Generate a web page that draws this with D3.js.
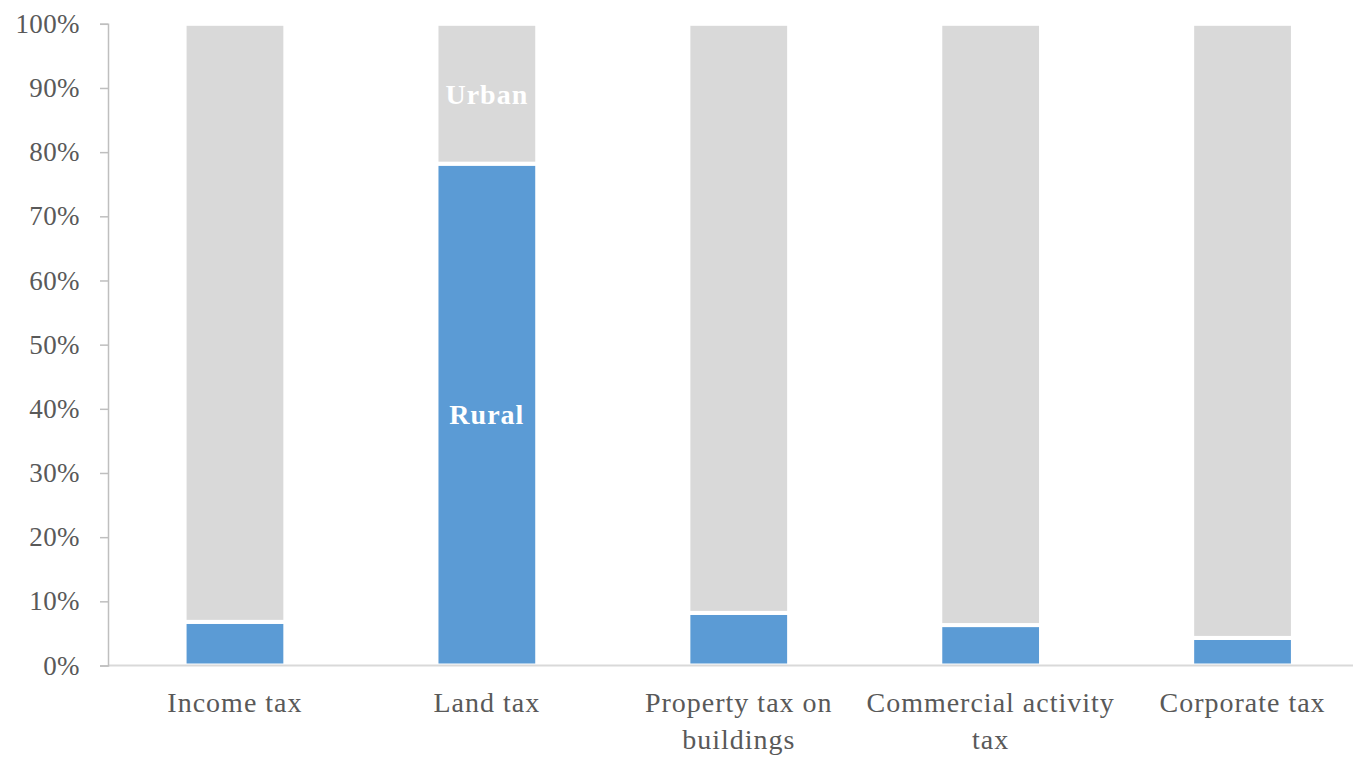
<!DOCTYPE html>
<html>
<head>
<meta charset="utf-8">
<script src="https://cdn.jsdelivr.net/npm/d3@7"></script>
<style>
  html, body { margin: 0; padding: 0; background: #fff; }
  svg { display: block; }
  text { font-family: "Liberation Serif", "DejaVu Serif", serif; }
</style>
</head>
<body>
<svg id="chart" width="1353" height="758"></svg>
<script>
// Share of each tax collected in rural vs urban areas
const categories = ["Income tax", "Land tax", "Property tax on buildings", "Commercial activity tax", "Corporate tax"];
const categoryLines = [["Income tax"], ["Land tax"], ["Property tax on", "buildings"], ["Commercial activity", "tax"], ["Corporate tax"]];
const rural = [6.8, 78.2, 8.2, 6.3, 4.3];
const urban = rural.map(v => 100 - v);
const yTicks = [0, 10, 20, 30, 40, 50, 60, 70, 80, 90, 100];

const svg = d3.select("#chart");
const plotLeft = 108, plotRight = 1369.5, plotTop = 23.8, plotBottom = 665.5;

const x = d3.scaleBand().domain(categories).range([plotLeft, plotRight]).paddingInner(0.6).paddingOuter(0.304);
const y = d3.scaleLinear().domain([0, 100]).range([plotBottom, plotTop]);

const rows = categories.map((c, i) => ({ cat: c, rural: rural[i], urban: urban[i] }));
const stack = d3.stack().keys(["rural", "urban"])(rows);
const colors = { rural: "#5b9bd5", urban: "#d9d9d9" };

// stacked bars with white separators
svg.append("g").selectAll("g").data(stack).join("g")
  .attr("fill", d => colors[d.key])
  .selectAll("rect").data(d => d).join("rect")
  .attr("x", d => x(d.data.cat))
  .attr("width", x.bandwidth())
  .attr("y", d => y(d[1]))
  .attr("height", d => y(d[0]) - y(d[1]))
  .attr("stroke", "#fff")
  .attr("stroke-width", 4);

// x axis baseline
svg.append("line")
  .attr("x1", plotLeft).attr("x2", 1353)
  .attr("y1", plotBottom).attr("y2", plotBottom)
  .attr("stroke", "#d9d9d9").attr("stroke-width", 2);

// y axis
const yAxis = svg.append("g")
  .attr("transform", `translate(${plotLeft},0)`)
  .call(d3.axisLeft(y).tickValues(yTicks).tickFormat(d => d + "%").tickSize(8).tickPadding(20));
yAxis.select(".domain").attr("stroke", "#bfbfbf").attr("stroke-width", 1.5);
yAxis.selectAll(".tick line").attr("stroke", "#bfbfbf").attr("stroke-width", 1.5);
yAxis.selectAll(".tick text")
  .attr("fill", "#595959")
  .style("font-size", "27px")
  .style("letter-spacing", "0.4px")
  .style("font-family", "'Liberation Serif', serif");

// category labels
const xl = svg.append("g");
categories.forEach((c, i) => {
  const cx = x(c) + x.bandwidth() / 2;
  const t = xl.append("text")
    .attr("x", cx)
    .attr("y", 712)
    .attr("text-anchor", "middle")
    .attr("fill", "#595959")
    .style("font-size", "28px")
    .style("letter-spacing", "1px");
  categoryLines[i].forEach((line, j) => {
    t.append("tspan").attr("x", cx).attr("dy", j === 0 ? 0 : 37).text(line);
  });
});

// series labels on the Land tax bar
const lc = categories[1];
const li = 1;
[["Rural", rural[li] / 2], ["Urban", rural[li] + urban[li] / 2]].forEach(([label, v]) => {
  svg.append("text")
    .attr("x", x(lc) + x.bandwidth() / 2)
    .attr("y", y(v))
    .attr("dy", "0.35em")
    .attr("text-anchor", "middle")
    .attr("fill", "#fff")
    .attr("font-weight", "bold")
    .style("font-size", "28px")
    .style("letter-spacing", "1px")
    .text(label);
});
</script>
</body>
</html>
